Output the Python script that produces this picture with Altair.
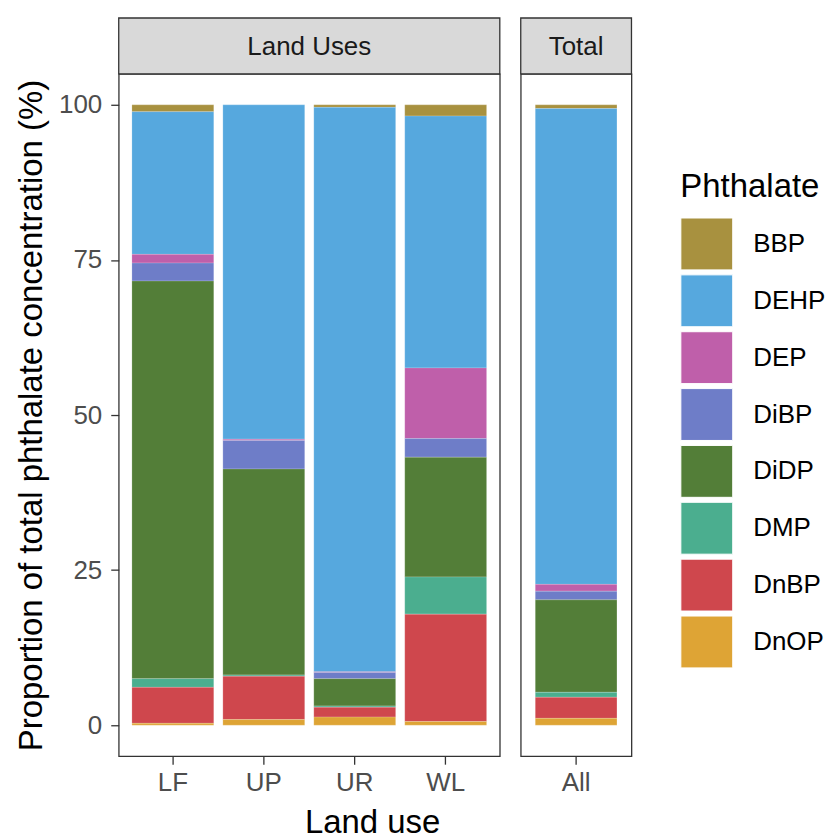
import altair as alt
import pandas as pd

PHTHALATES = ["BBP", "DEHP", "DEP", "DiBP", "DiDP", "DMP", "DnBP", "DnOP"]
COLORS = ["#A8913F", "#56A8DE", "#BF5FAA", "#6E7DC8", "#537E38", "#4BAE8F", "#CF474D", "#DEA435"]

LAND_USES = ["LF", "UP", "UR", "WL"]
TOTAL = ["All"]
PANELS = ["Land Uses", "Total"]

# proportions (%) in PHTHALATES order
LF = [1.1, 23.0, 1.4, 2.9, 64.1, 1.4, 5.8, 0.3]
UP = [0.0, 53.9, 0.2, 4.6, 33.2, 0.2, 7.0, 0.9]
UR = [0.4, 91.0, 0.1, 1.0, 4.4, 0.2, 1.6, 1.3]
WL = [1.8, 40.6, 11.4, 3.0, 19.3, 6.0, 17.3, 0.6]
ALL = [0.6, 76.7, 1.1, 1.4, 14.9, 0.8, 3.4, 1.1]

SITE_VALUES = {"LF": LF, "UP": UP, "UR": UR, "WL": WL, "All": ALL}

rows = []
for site, vals in SITE_VALUES.items():
    for i, (p, v) in enumerate(zip(PHTHALATES, vals)):
        rows.append({"site": site, "phthalate": p, "value": v,
                     "rank": len(PHTHALATES) - 1 - i})
df = pd.DataFrame(rows)

H = 684
W1 = 382
W2 = 111
STRIP = 56

color = alt.Color("phthalate:N", title="Phthalate",
                  scale=alt.Scale(domain=PHTHALATES, range=COLORS),
                  legend=alt.Legend(orient="none", legendX=563, legendY=97))

yscale = alt.Scale(domain=[-5, 105], nice=False, zero=False)


def panel(sites, width, label, show_y, pad_outer, xtitle):
    data = df[df["site"].isin(sites)]
    if xtitle:
        xaxis = alt.Axis(labelAngle=0, domain=False, grid=False, tickSize=8,
                         labelPadding=5, title=xtitle, titleX=254, titleY=76,
                         titleAlign="center", titleBaseline="alphabetic",
                         titleFontSize=33, titleColor="black",
                         titleFontWeight="normal")
    else:
        xaxis = alt.Axis(labelAngle=0, domain=False, grid=False, tickSize=8,
                         labelPadding=5, title=None)
    if show_y:
        yaxis = alt.Axis(values=[0, 25, 50, 75, 100], domain=False, grid=False,
                         tickSize=8, labelPadding=9,
                         title="Proportion of total phthalate concentration (%)",
                         titlePadding=10, titleFontSize=33, titleColor="black",
                         titleFontWeight="normal")
    else:
        yaxis = None
    bars = alt.Chart(data).mark_bar(stroke="white", strokeWidth=0.3,
                                    strokeOpacity=0.6).encode(
        x=alt.X("site:N", sort=sites,
                scale=alt.Scale(domain=sites, paddingInner=0.1,
                                paddingOuter=pad_outer),
                axis=xaxis),
        y=alt.Y("value:Q", stack="zero", scale=yscale, axis=yaxis),
        color=color,
        order=alt.Order("rank:Q", sort="ascending"),
    )
    sdata = pd.DataFrame({"panel": [label]})
    strip = alt.Chart(sdata).mark_rect(fill="#d9d9d9", stroke="#333333",
                                       strokeWidth=1.3).encode(
        x=alt.value(0), x2=alt.value(width),
        y=alt.value(-STRIP), y2=alt.value(0))
    stext = alt.Chart(sdata).mark_text(fontSize=26, color="#1a1a1a",
                                       baseline="middle", align="center").encode(
        x=alt.value(width / 2), y=alt.value(-STRIP / 2 + 1), text="panel:N")
    return alt.layer(bars, strip, stext).properties(width=width, height=H)


left = panel(LAND_USES, W1, PANELS[0], True, 0.145, "Land use")
right = panel(TOTAL, W2, PANELS[1], False, 0.16, None)

chart = alt.hconcat(left, right, spacing=17).resolve_scale(
    x="independent", color="shared"
).properties(
    padding={"left": 6, "top": 7, "right": 0, "bottom": 0}
).configure(font="Liberation Sans").configure_view(
    stroke="#333333", strokeWidth=1.3
).configure_axis(
    labelFontSize=26, labelColor="#4d4d4d", tickColor="#333333",
    tickWidth=1.3, labelFont="Liberation Sans", titleFont="Liberation Sans"
).configure_legend(
    titleFontSize=33, titleFontWeight="normal", titleColor="black",
    labelFontSize=26, labelColor="black", symbolType="square",
    symbolSize=2704, symbolStrokeColor="white", symbolStrokeWidth=1,
    symbolOpacity=1, rowPadding=0, labelOffset=20, titlePadding=14,
    padding=0
)

chart.save("out.html", embed_options={"renderer": "svg", "actions": False})
